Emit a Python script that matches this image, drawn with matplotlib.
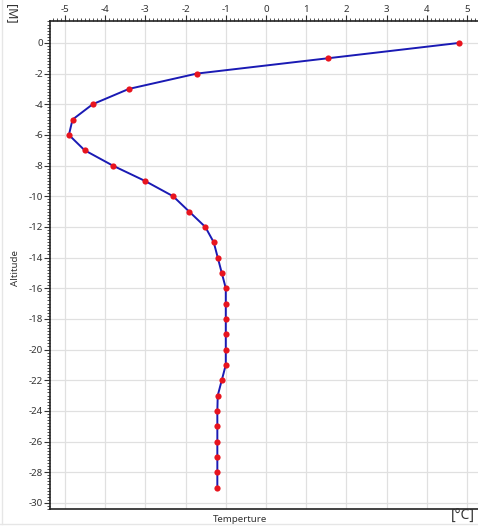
import matplotlib
matplotlib.use("Agg")
import matplotlib.pyplot as plt
from matplotlib.ticker import MultipleLocator, FuncFormatter
from matplotlib.lines import Line2D

altitude = [0, -1, -2, -3, -4, -5, -6, -7, -8, -9, -10, -11, -12, -13, -14, -15,
            -16, -17, -18, -19, -20, -21, -22, -23, -24, -25, -26, -27, -28, -29]
temperature = [4.8, 1.54, -1.72, -3.41, -4.31, -4.81, -4.90, -4.51, -3.81, -3.01,
               -2.31, -1.91, -1.51, -1.30, -1.20, -1.10, -1.00, -1.00, -1.00, -1.00,
               -1.00, -1.00, -1.10, -1.20, -1.21, -1.21, -1.21, -1.21, -1.21, -1.21]

plt.rcParams['font.family'] = ['Noto Sans', 'DejaVu Sans']
fig = plt.figure(figsize=(4.78, 5.27), dpi=100)
W, H = 478, 527
ax = fig.add_axes([50 / W, 1 - 509 / H, (478 - 50) / W, (509 - 21) / H])

ax.plot(temperature, altitude, color='#1a1ab4', lw=1.4, zorder=3)
ax.scatter(temperature, altitude, s=20, color='#e8141e', zorder=4, linewidths=0)

ax.set_xlim(-5.37, 5.27)
ax.set_ylim(-30.4, 1.43)

ax.xaxis.set_major_locator(MultipleLocator(1))
ax.xaxis.set_minor_locator(MultipleLocator(0.1))
ax.yaxis.set_major_locator(MultipleLocator(2))
ax.yaxis.set_minor_locator(MultipleLocator(0.2))
fmt = FuncFormatter(lambda v, p: "%d" % round(v))
ax.xaxis.set_major_formatter(fmt)
ax.yaxis.set_major_formatter(fmt)

ax.xaxis.tick_top()
ax.tick_params(axis='both', which='major', direction='out', length=4, width=0.8,
               labelsize=7, colors='#333333', pad=1)
ax.tick_params(axis='both', which='minor', direction='out', length=2, width=0.6,
               colors='#333333')
ax.tick_params(axis='x', which='both', top=True, bottom=False)

ax.grid(True, which='major', color='#e0e0e0', lw=0.9, zorder=0)
ax.set_axisbelow(True)

ax.spines['right'].set_visible(False)
for s in ['top', 'left', 'bottom']:
    ax.spines[s].set_color('#222222')
    ax.spines[s].set_linewidth(1.2)

fig.text(240 / W, 1 - 520 / H, 'Temperture', ha='center', va='center', fontsize=7,
         color='#333333')
fig.text(15 / W, 1 - 268 / H, 'Altitude', ha='center', va='center', fontsize=7,
         rotation=90, color='#333333')
fig.text(463 / W, 1 - 516 / H, '[°C]', ha='center', va='center', fontsize=10,
         color='#333333')
fig.text(11 / W, 1 - 14 / H, '[M]', ha='center', va='center', fontsize=9,
         rotation=270, color='#333333')

# faint frame lines at the left and bottom edges of the picture
fig.add_artist(Line2D([1.5 / W, 1.5 / W], [1 - 524 / H, 1], color='#e6e6e6', lw=1,
                      transform=fig.transFigure))
fig.add_artist(Line2D([0, 1], [1 - 524 / H, 1 - 524 / H], color='#e6e6e6', lw=1,
                      transform=fig.transFigure))

fig.savefig('out.png', dpi=100)
